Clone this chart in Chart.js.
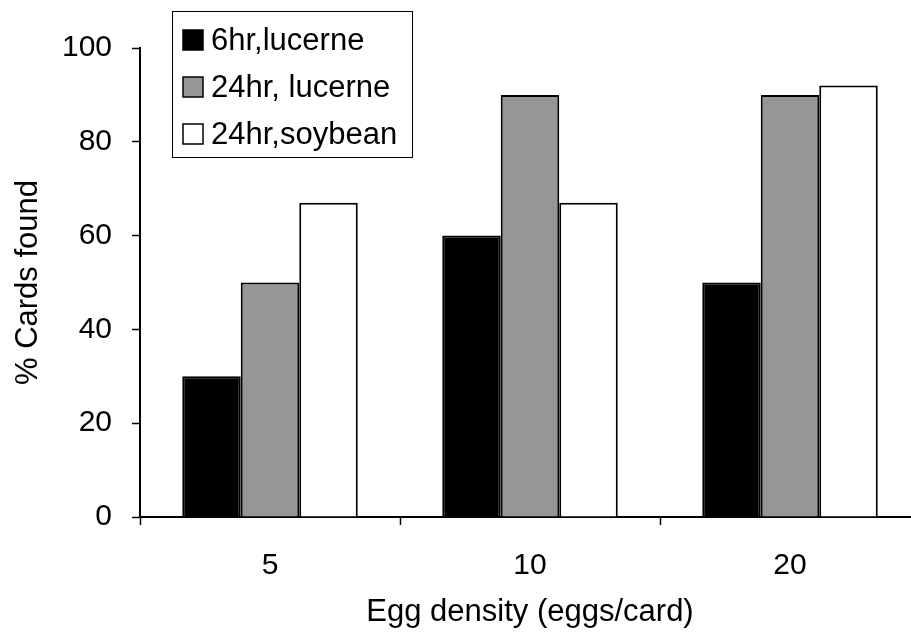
<!DOCTYPE html>
<html>
<head>
<meta charset="utf-8">
<script src="https://cdn.jsdelivr.net/npm/chart.js@4/dist/chart.umd.min.js"></script>
<style>
    html, body { margin: 0; padding: 0; background: white; overflow: hidden; }
    #container { width: 920px; height: 634px; }
</style>
</head>
<body>
<div id="container">
    <canvas id="barCanvas" width="920" height="634"></canvas>
</div>
<script>
// egg densities on the x axis
const densities = ['5', '10', '20'];

// percentage of cards found for each trial
const sixHrLucerne = [30, 60, 50];
const twentyFourHrLucerne = [50, 90, 90];
const twentyFourHrSoybean = [67, 67, 92];

const yTicks = [0, 20, 40, 60, 80, 100];

const seriesNames = ['6hr,lucerne', '24hr, lucerne', '24hr,soybean'];

const FONT = "'Liberation Sans', Arial, sans-serif";

// Legend box drawn inside the plot, top left
const boxLegend = {
    id: 'boxLegend',
    afterDraw(chart) {
        const ctx = chart.ctx;
        ctx.save();
        ctx.lineWidth = 1;
        ctx.strokeStyle = 'black';
        ctx.strokeRect(172.5, 11.5, 240, 146);

        ctx.font = '31px ' + FONT;
        ctx.textAlign = 'left';
        ctx.textBaseline = 'middle';
        chart.data.datasets.forEach(function(ds, i) {
            let y = 40 + i * 47;
            ctx.fillStyle = ds.backgroundColor;
            ctx.fillRect(183, y - 10, 20, 20);
            ctx.strokeStyle = 'black';
            ctx.lineWidth = 1.5;
            ctx.strokeRect(183, y - 10, 20, 20);
            ctx.fillStyle = 'black';
            ctx.fillText(ds.label, 211, y + 1);
        });
        ctx.restore();
    }
};

const barCanvas = document.getElementById('barCanvas');
const barChart = new Chart(barCanvas.getContext('2d'), {
    type: 'bar',
    data: {
        labels: densities,
        datasets: [
            { label: seriesNames[0], data: sixHrLucerne, backgroundColor: '#000000', borderColor: '#000000', borderWidth: 2 },
            { label: seriesNames[1], data: twentyFourHrLucerne, backgroundColor: '#969696', borderColor: '#000000', borderWidth: 2 },
            { label: seriesNames[2], data: twentyFourHrSoybean, backgroundColor: '#ffffff', borderColor: '#000000', borderWidth: 2 }
        ]
    },
    options: {
        responsive: false,
        animation: false,
        devicePixelRatio: 1,
        categoryPercentage: 0.675,
        barPercentage: 1.0,
        layout: { padding: { top: 48, right: 0, bottom: 0, left: 0 } },
        plugins: {
            legend: { display: false },
            tooltip: { enabled: false }
        },
        scales: {
            x: {
                offset: true,
                grid: { display: true, offset: true, drawOnChartArea: false, drawTicks: true, tickLength: 8, color: 'black', tickWidth: 1.5 },
                border: { display: true, color: 'black', width: 2 },
                ticks: { color: 'black', padding: 23, font: { family: FONT, size: 30 } },
                title: {
                    display: true,
                    text: 'Egg density (eggs/card)',
                    color: 'black',
                    font: { family: FONT, size: 31 },
                    padding: { top: 0, bottom: 3 }
                },
                afterFit: function(scale) { scale.height = 117; }
            },
            y: {
                min: 0,
                max: 100,
                afterBuildTicks: function(scale) {
                    scale.ticks = yTicks.map(v => ({ value: v }));
                },
                grid: { display: true, drawOnChartArea: false, drawTicks: true, tickLength: 8, color: 'black', tickWidth: 1.5 },
                border: { display: true, color: 'black', width: 2 },
                ticks: { color: 'black', padding: 20, font: { family: FONT, size: 30 } },
                title: {
                    display: true,
                    text: '% Cards found',
                    color: 'black',
                    font: { family: FONT, size: 31 },
                    padding: { top: 10, bottom: 0 }
                },
                afterFit: function(scale) { scale.width = 140; }
            }
        }
    },
    plugins: [boxLegend]
});
</script>
</body>
</html>
